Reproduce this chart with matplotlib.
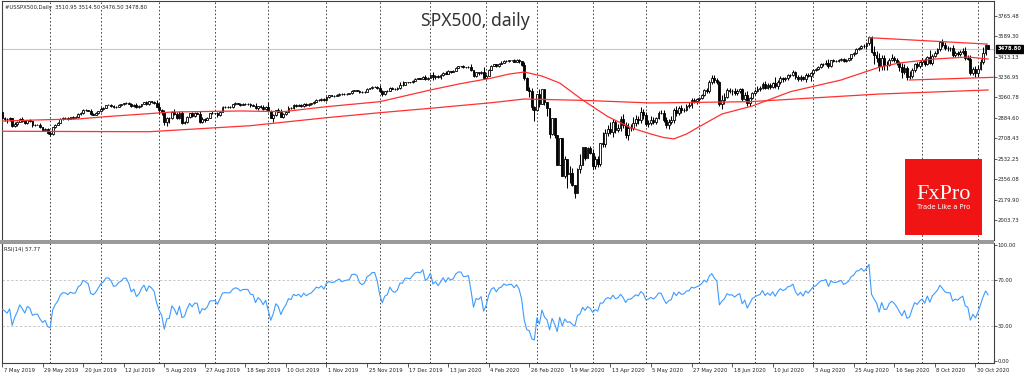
import numpy as np
import pandas as pd
import matplotlib
matplotlib.use('Agg')
import matplotlib.pyplot as plt
from matplotlib.patches import Rectangle
from matplotlib.transforms import ScaledTranslation

# Daily closes of #USSPX500, 7 May 2019 .. 6 Nov 2020 (one row per month)
close_2019 = [
    2884, 2879, 2871, 2881, 2812, 2834, 2851, 2876, 2860, 2840, 2864, 2856, 2822, 2826, 2826, 2802, 2783, 2789, 2752,
    2744, 2804, 2826, 2843, 2873, 2886, 2885, 2879, 2891, 2887, 2889, 2917, 2926, 2954, 2950, 2945, 2917, 2913, 2924, 2942,
    2964, 2973, 2996, 2996, 2990, 2976, 2979, 2993, 3000, 3014, 3014, 3004, 2985, 2995, 2977, 2985, 3005, 3019, 3004, 3026, 3021, 3013, 2980,
    2953, 2932, 2845, 2882, 2884, 2938, 2919, 2883, 2926, 2840, 2848, 2889, 2924, 2900, 2924, 2922, 2847, 2878, 2869, 2887, 2924, 2926,
    2926, 2906, 2938, 2976, 2979, 2978, 2979, 3000, 3009, 3007, 2998, 3006, 3006, 3006, 2992, 2991, 2966, 2984, 2977, 2961, 2976,
    2940, 2887, 2910, 2952, 2938, 2893, 2919, 2938, 2970, 2966, 2995, 2989, 2997, 2986, 3006, 2996, 3004, 3010, 3023, 3039, 3036, 3047, 3038,
    3067, 3078, 3075, 3077, 3085, 3093, 3087, 3092, 3094, 3097, 3120, 3122, 3120, 3108, 3104, 3110, 3134, 3141, 3154, 3154, 3141,
    3114, 3093, 3113, 3118, 3146, 3136, 3133, 3142, 3169, 3169, 3192, 3192, 3191, 3206, 3221, 3224, 3223, 3240, 3221, 3231,
]
close_2020 = [
    3258, 3235, 3246, 3237, 3253, 3275, 3265, 3288, 3283, 3289, 3317, 3330, 3330, 3321, 3321, 3326, 3295, 3244, 3276, 3273, 3284, 3226,
    3249, 3298, 3334, 3345, 3328, 3352, 3358, 3379, 3374, 3380, 3380, 3370, 3386, 3373, 3338, 3226, 3128, 3116, 2979, 2954,
    3090, 3003, 3130, 3024, 2972, 2747, 2882, 2741, 2481, 2711, 2386, 2529, 2398, 2409, 2305, 2237, 2447, 2476, 2630, 2541, 2627, 2585,
    2471, 2527, 2489, 2664, 2660, 2750, 2790, 2762, 2846, 2783, 2800, 2875, 2823, 2737, 2799, 2798, 2837, 2878, 2863, 2939, 2912,
    2831, 2843, 2868, 2848, 2881, 2930, 2930, 2870, 2820, 2852, 2864, 2954, 2923, 2972, 2949, 2955, 2990, 2992, 3036, 3030, 3044,
    3056, 3081, 3123, 3112, 3194, 3232, 3207, 3190, 3002, 3041, 3067, 3125, 3113, 3115, 3098, 3118, 3131, 3050, 3084, 3009, 3053, 3100,
    3116, 3130, 3140, 3180, 3145, 3169, 3152, 3185, 3155, 3197, 3227, 3216, 3225, 3251, 3257, 3276, 3236, 3216, 3239, 3218, 3258, 3246, 3271,
    3295, 3306, 3327, 3349, 3351, 3360, 3333, 3380, 3373, 3373, 3381, 3389, 3375, 3385, 3397, 3431, 3443, 3479, 3485, 3508, 3500,
    3527, 3580, 3455, 3427, 3400, 3331, 3399, 3340, 3341, 3384, 3401, 3385, 3357, 3319, 3282, 3316, 3237, 3246, 3298, 3351, 3336, 3363,
    3380, 3348, 3409, 3361, 3419, 3447, 3477, 3535, 3512, 3489, 3483, 3484, 3427, 3443, 3436, 3453, 3465, 3401, 3391, 3271, 3310, 3270,
    3310, 3370, 3443, 3511, 3478.8,
]
# April 2019 closes, only used to start the RSI
close_warmup = [2867, 2867, 2873, 2879, 2893, 2896, 2878, 2888, 2888, 2907, 2906, 2907, 2900, 2905,
                2908, 2934, 2927, 2926, 2940, 2943, 2946, 2924, 2918, 2946, 2932]

# wick lengths above / below the candle body (points)
wick_up_2019 = [
    6, 10, 8, 9, 4, 14, 8, 7, 12, 5, 6, 10, 4, 6, 3, 18, 6, 12, 5,
    20, 4, 3, 5, 8, 10, 6, 8, 4, 6, 10, 8, 12, 10, 8, 6, 14, 10, 8, 6,
    14, 6, 3, 4, 8, 6, 5, 9, 8, 3, 5, 8, 10, 6, 16, 8, 3, 4, 10, 4, 8, 6, 25,
    30, 12, 20, 10, 6, 3, 20, 12, 14, 16, 8, 12, 6, 10, 14, 12, 22, 10, 6, 4, 6, 14,
    4, 6, 6, 10, 6, 10, 8, 4, 12, 8, 6, 6, 10, 8, 6, 8, 20, 6, 10, 16, 12,
    48, 10, 6, 4, 14, 20, 6, 10, 20, 8, 6, 10, 6, 10, 8, 6, 8, 4, 6, 4, 4, 8, 6,
    4, 6, 6, 5, 8, 3, 6, 6, 4, 5, 4, 4, 6, 6, 8, 6, 4, 4, 4, 2, 6,
    26, 10, 6, 8, 4, 6, 8, 6, 24, 30, 6, 6, 6, 4, 4, 4, 6, 4, 18, 4,
]
wick_dn_2019 = [
    22, 18, 28, 14, 10, 9, 20, 6, 10, 12, 8, 6, 16, 8, 4, 4, 12, 6, 6,
    16, 6, 10, 6, 5, 4, 8, 9, 6, 10, 4, 6, 8, 4, 6, 4, 4, 8, 6, 5,
    5, 8, 5, 3, 14, 6, 8, 5, 6, 4, 6, 4, 5, 8, 6, 4, 8, 5, 6, 5, 6, 8, 6,
    35, 20, 20, 30, 40, 10, 12, 8, 8, 10, 10, 12, 8, 4, 10, 8, 6, 10, 16, 6, 4, 8,
    4, 10, 4, 6, 6, 8, 10, 6, 6, 4, 8, 6, 8, 8, 10, 6, 6, 12, 8, 10, 6,
    6, 6, 34, 6, 6, 4, 10, 12, 4, 6, 6, 8, 4, 10, 4, 8, 8, 6, 4, 4, 6, 8, 12,
    6, 8, 6, 10, 4, 8, 8, 6, 10, 8, 4, 8, 6, 12, 8, 6, 4, 4, 4, 4, 4,
    8, 22, 8, 6, 4, 4, 10, 4, 6, 12, 4, 8, 6, 4, 6, 4, 4, 4, 6, 12,
]
wick_up_2020 = [
    6, 22, 6, 10, 8, 6, 10, 6, 4, 4, 6, 6, 4, 10, 6, 6, 20, 4, 8, 6, 6, 36,
    14, 8, 6, 4, 4, 4, 16, 6, 6, 6, 6, 10, 6, 4, 6, 30, 14, 24, 28, 8,
    0, 46, 0, 0, 0, 0, 0, 0, 0, 0, 0, 24, 0, 57, 44, 0, 2, 95, 7, 0, 4, 14,
    30, 30, 28, 0, 96, 40, 30, 58, 30, 20, 30, 28, 45, 30, 40, 30, 54, 30, 20, 40, 20,
    20, 20, 30, 20, 15, 10, 20, 20, 20, 25, 35, 15, 30, 15, 20, 12, 15, 30, 20, 20, 10,
    10, 10, 10, 15, 20, 20, 20, 20, 10, 40, 30, 20, 15, 20, 30, 15, 15, 15, 20, 30, 10, 10,
    20, 30, 15, 10, 20, 15, 20, 10, 55, 15, 15, 10, 15, 10, 10, 20, 15, 20, 15, 10, 10, 10, 10,
    10, 8, 6, 6, 6, 20, 30, 6, 10, 10, 10, 14, 12, 10, 8, 8, 8, 6, 10, 6, 10,
    8, 8, 10, 50, 30, 40, 30, 30, 35, 15, 30, 20, 20, 20, 40, 30, 20, 40, 15, 10, 15, 15,
    20, 25, 10, 60, 20, 10, 10, 15, 30, 25, 15, 15, 25, 20, 15, 20, 25, 30, 25, 35, 15, 20,
    30, 25, 55, 10, 3.5,
]
wick_dn_2020 = [
    4, 20, 12, 6, 14, 4, 6, 4, 8, 6, 4, 6, 4, 8, 6, 6, 10, 8, 10, 20, 12, 6,
    10, 6, 4, 6, 6, 6, 6, 4, 8, 4, 6, 6, 6, 14, 4, 12, 6, 50, 30, 100,
    9, 27, 0, 25, 71, 40, 13, 34, 3, 0, 6, 19, 118, 79, 10, 45, 0, 40, 0, 20, 0, 14,
    25, 30, 30, 20, 30, 30, 20, 20, 40, 30, 20, 30, 30, 30, 40, 30, 20, 25, 30, 20, 40,
    20, 25, 20, 15, 15, 10, 10, 20, 25, 35, 20, 20, 25, 10, 20, 15, 15, 20, 25, 20, 30,
    10, 10, 10, 10, 10, 15, 20, 10, 15, 40, 40, 10, 15, 30, 20, 15, 15, 20, 10, 20, 20, 10,
    20, 10, 10, 10, 10, 15, 20, 10, 10, 20, 20, 20, 10, 15, 10, 10, 20, 15, 15, 10, 20, 10, 40,
    20, 10, 6, 10, 20, 10, 20, 10, 10, 10, 10, 10, 10, 10, 10, 10, 10, 10, 10, 10, 10,
    20, 10, 15, 80, 30, 40, 30, 40, 40, 10, 10, 20, 20, 30, 50, 20, 30, 20, 20, 15, 20, 20,
    20, 20, 10, 10, 20, 10, 10, 20, 20, 15, 20, 20, 20, 20, 20, 20, 20, 15, 10, 20, 20, 35,
    35, 15, 20, 15, 2.3,
]

# red moving averages: (bar index, price)
ma_fast_idx = [0, 13, 30, 41, 60, 67, 94, 111, 128, 149, 169, 181, 193, 200, 206, 213, 220, 229,
               239, 248, 256, 261, 265, 270, 275, 284, 296, 311, 331, 346, 354, 368, 381, 389]
ma_fast_val = [2857, 2866, 2875, 2895, 2924, 2935, 2944, 2938, 2981, 3024, 3125, 3180, 3227, 3262,
               3280, 3245, 3185, 3039, 2895, 2800, 2745, 2715, 2703, 2745, 2808, 2918, 2987, 3110,
               3211, 3321, 3358, 3392, 3409, 3392]
ma_slow_idx = [0, 58, 98, 128, 149, 169, 193, 206, 230, 256, 295, 346, 389]
ma_slow_val = [2769, 2765, 2817, 2886, 2929, 2967, 3015, 3047, 3035, 3013, 3024, 3090, 3125]
# trend lines drawn by hand on the chart
trend_top_idx, trend_top_val = [342, 388.6], [3576, 3521]
trend_low_idx, trend_low_val = [358, 391], [3211, 3234]

price_ticks = [2003.73, 2179.90, 2356.08, 2532.25, 2708.43, 2884.60, 3060.78,
               3236.95, 3413.13, 3589.30, 3765.48]
rsi_ticks = [0, 30, 70, 100]
holidays = ['2019-12-25', '2019-12-26', '2020-01-01', '2020-04-10']

# ---- prepare bars
closes = np.array(close_2019 + close_2020, dtype=float)
n = len(closes)
dates = pd.bdate_range('2019-05-07', '2020-11-06')
dates = dates[~dates.isin(pd.to_datetime(holidays))][:n]
opens = np.r_[close_warmup[-1], closes[:-1]]
opens[-1] = 3510.95
wu = np.array((wick_up_2019 + wick_up_2020 + [0] * n)[:n], dtype=float)
wd = np.array((wick_dn_2019 + wick_dn_2020 + [0] * n)[:n], dtype=float)
highs = np.maximum(opens, closes) + wu
lows = np.minimum(opens, closes) - wd
x = np.arange(n)

# RSI(14), Wilder smoothing as in MT4
allc = np.array(close_warmup + list(closes), dtype=float)
d = np.diff(allc)
g = np.where(d > 0, d, 0.0)
l = np.where(d < 0, -d, 0.0)
ag, al = g[:14].mean(), l[:14].mean()
rsi_all = np.full(len(allc), np.nan)
rsi_all[14] = 100 - 100 / (1 + ag / al)
for j in range(15, len(allc)):
    ag = (ag * 13 + g[j - 1]) / 14
    al = (al * 13 + l[j - 1]) / 14
    rsi_all[j] = 100 - 100 / (1 + ag / al) if al > 0 else 100
rsi = rsi_all[len(close_warmup):]

# ---- figure, pixel based layout
W, H = 1024, 378
fig = plt.figure(figsize=(W / 100, H / 100), dpi=100)
fig.patch.set_facecolor('white')


def fbox(x0, y0, x1, y1):
    return [x0 / W, 1 - y1 / H, (x1 - x0) / W, (y1 - y0) / H]


ax = fig.add_axes(fbox(1.5, 1, 993.5, 240))
ax_rsi = fig.add_axes(fbox(1.5, 243, 993.5, 362.5))

dx, x0 = 2.535, 2.0
xl = ((1.5 - x0) / dx, (993.5 - x0) / dx)


def price_at(py):
    return 3765.48 - (py - 15.7) * 8.623


def rsi_at(py):
    return 100 - (py - 244.7) / 1.163


ax.set_xlim(*xl)
ax.set_ylim(price_at(240), price_at(1))
ax_rsi.set_xlim(*xl)
ax_rsi.set_ylim(rsi_at(362.5), rsi_at(243))

# month separators
sep = [i for i in range(1, n) if dates[i].month != dates[i - 1].month]
for a in (ax, ax_rsi):
    for i in sep:
        a.axvline(i, color='#404040', lw=0.7, ls=(0, (1.6, 2.2)), zorder=1)

# current price line
ax.axhline(closes[-1], color='#c8c8c8', lw=0.8, zorder=1)

# candles
bull = closes >= opens
ax.vlines(x, lows, highs, color='black', lw=0.75, zorder=2)
ax.bar(x[bull], (closes - opens)[bull], bottom=opens[bull], width=0.72,
       color='white', edgecolor='black', linewidth=0.6, zorder=3)
ax.bar(x[~bull], (opens - closes)[~bull], bottom=closes[~bull], width=0.72,
       color='black', edgecolor='black', linewidth=0.6, zorder=3)

# moving averages and trend lines
red = '#ff3030'
ax.plot(ma_fast_idx, ma_fast_val, color=red, lw=0.9, zorder=4)
ax.plot(ma_slow_idx, ma_slow_val, color=red, lw=0.9, zorder=4)
ax.plot(trend_top_idx, trend_top_val, color=red, lw=0.9, zorder=4)
ax.plot(trend_low_idx, trend_low_val, color=red, lw=0.9, zorder=4)

# RSI panel
for lv in (30, 70):
    ax_rsi.axhline(lv, color='#c8c8c8', lw=0.7, ls=(0, (2.5, 2)), zorder=1)
ax_rsi.plot(x, rsi, color='#3d9bff', lw=0.8, zorder=3)

# axes styling
small = 3.8
for a in (ax, ax_rsi):
    for s in a.spines.values():
        s.set_color('#404040')
        s.set_linewidth(0.8)
    a.yaxis.tick_right()
    a.tick_params(axis='y', direction='out', length=2, width=0.6, pad=1,
                  labelsize=small, labelcolor='#222222', color='#404040')
ax.spines['bottom'].set_visible(False)
ax_rsi.spines['top'].set_visible(False)

ax.set_yticks(price_ticks)
ax.set_yticklabels([f'{v:.2f}' for v in price_ticks])
ax.set_xticks([])
ax_rsi.set_yticks(rsi_ticks)
ax_rsi.set_yticklabels([f'{v:.2f}' for v in rsi_ticks])

lab_idx = list(range(0, n, 16))
ax_rsi.set_xticks(lab_idx)
ax_rsi.set_xticklabels([f'{dates[i].day} {dates[i]:%b %Y}' for i in lab_idx])
ax_rsi.tick_params(axis='x', direction='out', length=3, width=0.6, pad=0.8,
                   labelsize=small, labelcolor='#222222', color='#404040')
shift = ScaledTranslation(1.5 / 100, 0, fig.dpi_scale_trans)
for t in ax_rsi.get_xticklabels():
    t.set_ha('left')
    t.set_transform(t.get_transform() + shift)

# panel separator band
fig.add_artist(Rectangle((0, 1 - 243.5 / H), 993.5 / W, 3.5 / H,
                         transform=fig.transFigure, color='#9a9a9a', lw=0))

# price label box
ax.text(1.004, closes[-1], f'{closes[-1]:.2f}', transform=ax.get_yaxis_transform(),
        color='white', fontsize=small, fontweight='bold', va='center', ha='left',
        bbox=dict(boxstyle='square,pad=0.2', fc='black', ec='black'), zorder=6)

# texts
fig.text(5 / W, 1 - 7 / H, '#USSPX500,Daily  3510.95 3514.50 3476.50 3478.80',
         fontsize=small, color='#222222', va='center', ha='left')
fig.text(4.5 / W, 1 - 249 / H, 'RSI(14) 57.77',
         fontsize=small, color='#222222', va='center', ha='left')
fig.text(475.5 / W, 1 - 26 / H, 'SPX500, daily', family='Noto Sans',
         fontsize=12.6, color='#333333', ha='center', va='baseline')

# FxPro badge
fig.add_artist(Rectangle((905 / W, 1 - 235 / H), 76.7 / W, 75.7 / H,
                         transform=fig.transFigure, color='#f01414', lw=0))
fig.text(943.5 / W, 1 - 199 / H, 'FxPro', family='Liberation Serif',
         fontsize=16, color='white', ha='center', va='baseline')
fig.text(943.5 / W, 1 - 209 / H, 'Trade Like a Pro', fontsize=4.9,
         color='white', ha='center', va='baseline')

fig.savefig('out.png', dpi=100)
